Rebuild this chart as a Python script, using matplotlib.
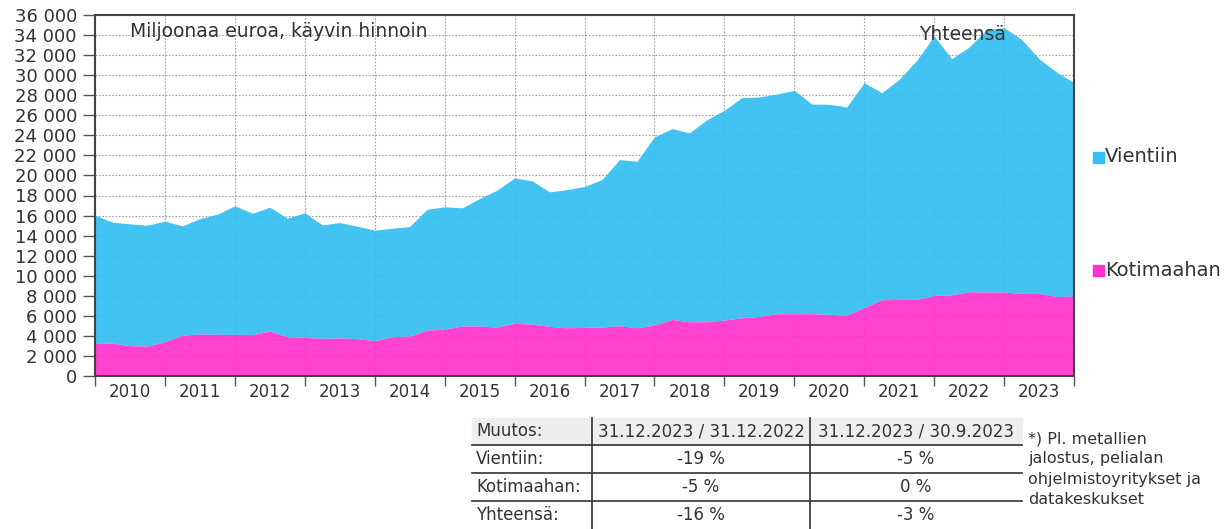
import matplotlib
matplotlib.use("Agg")
import matplotlib.pyplot as plt
from matplotlib.ticker import FuncFormatter, FixedLocator
import numpy as np

plt.rcParams['font.family'] = ['DejaVu Sans']

# ---- data (quarterly, 31.12.2009 ... 31.12.2023), million euro ----
years = ['2010', '2011', '2012', '2013', '2014', '2015', '2016',
         '2017', '2018', '2019', '2020', '2021', '2022', '2023']
yhteensa = [16040, 15340, 15170, 15040, 15440, 14970, 15700, 16140, 16970, 16230,
            16830, 15740, 16270, 15070, 15300, 14940, 14540, 14740, 14910, 16630,
            16870, 16770, 17700, 18530, 19750, 19460, 18360, 18590, 18900, 19590,
            21580, 21410, 23840, 24670, 24240, 25560, 26490, 27760, 27820, 28120,
            28490, 27120, 27090, 26830, 29250, 28250, 29580, 31470, 33900, 31640,
            32800, 34560, 34730, 33570, 31640, 30310, 29250]
kotimaahan = [3250, 3290, 3020, 2990, 3420, 4080, 4180, 4150, 4150, 4120,
              4480, 3920, 3850, 3750, 3790, 3720, 3520, 3920, 3980, 4580,
              4680, 4980, 4980, 4880, 5250, 5180, 4950, 4810, 4850, 4880,
              5010, 4810, 5080, 5640, 5410, 5410, 5580, 5810, 5940, 6210,
              6210, 6210, 6140, 6080, 6810, 7600, 7640, 7640, 8030, 8100,
              8400, 8370, 8370, 8230, 8230, 7930, 7970]
series_names = ['Vientiin', 'Kotimaahan']
total_label = 'Yhteensä'
unit_label = 'Miljoonaa euroa, käyvin hinnoin'

table_header = ['Muutos:', '31.12.2023 / 31.12.2022', '31.12.2023 / 30.9.2023']
table_rows = [['Vientiin:', '-19 %', '-5 %'],
              ['Kotimaahan:', '-5 %', '0 %'],
              ['Yhteensä:', '-16 %', '-3 %']]
footnote = '*) Pl. metallien\njalostus, pelialan\nohjelmistoyritykset ja\ndatakeskukset'

BLUE = '#33BFF2'
PINK = '#FF33CC'
TXT = '#333333'

W, H = 1230, 529
fig = plt.figure(figsize=(W / 100, H / 100), dpi=100)

def px_rect(x0, y0, x1, y1):
    return [x0 / W, 1 - y1 / H, (x1 - x0) / W, (y1 - y0) / H]

ax = fig.add_axes(px_rect(95, 15, 1074, 376))
x = np.arange(len(yhteensa))
tot = np.array(yhteensa, float)
dom = np.array(kotimaahan, float)

ax.fill_between(x, dom, tot, color=BLUE, lw=0, zorder=2, alpha=0.93)
ax.fill_between(x, 0, dom, color=PINK, lw=0, zorder=2, alpha=0.93)

ax.set_xlim(0, len(yhteensa) - 1)
ax.set_ylim(0, 36000)
ax.yaxis.set_major_locator(FixedLocator(np.arange(0, 36001, 2000)))
ax.yaxis.set_major_formatter(FuncFormatter(lambda v, p: f'{int(v):,}'.replace(',', ' ')))
ax.xaxis.set_major_locator(FixedLocator(np.arange(0, len(yhteensa), 4)))
ax.xaxis.set_minor_locator(FixedLocator(np.arange(2, len(yhteensa), 4)))
ax.set_xticklabels([], minor=False)
ax.set_xticklabels(years, minor=True)
ax.tick_params(axis='x', which='major', length=7, width=1, color='#555555', direction='out')
ax.tick_params(axis='x', which='minor', length=0, labelsize=12, labelcolor=TXT, pad=5)
ax.tick_params(axis='y', length=9, width=1, color='#555555', labelsize=13, labelcolor=TXT, pad=4)

ax.grid(True, which='major', color='#888888', linestyle=(0, (1.5, 1.5)), linewidth=0.8, alpha=0.8, zorder=1)
ax.set_axisbelow(True)
for s in ax.spines.values():
    s.set_color('#444444')
    s.set_linewidth(1.5)
    s.set_zorder(5)

ax.text(0.036, 0.955, unit_label, transform=ax.transAxes, fontsize=13.5,
        color=TXT, ha='left', va='center')
ax.text(0.842, 0.945, total_label, transform=ax.transAxes, fontsize=13.5,
        color=TXT, ha='left', va='center', zorder=6)

# legend-like labels on the right
for name, col, ypx in [(series_names[0], BLUE, 157), (series_names[1], PINK, 270)]:
    fig.patches.append(plt.Rectangle((1093 / W, 1 - (ypx + 6) / H), 11 / W, 11 / H,
                                     transform=fig.transFigure, color=col, figure=fig))
    fig.text(1105 / W, 1 - ypx / H, name, fontsize=14, color=TXT, ha='left', va='center')

# table
tx0, tx1 = 472, 1022
colx = [472, 592, 810, 1022]
rowy = [418, 445, 473, 501, 529]
fig.patches.append(plt.Rectangle((tx0 / W, 1 - rowy[1] / H), (tx1 - tx0) / W,
                                 (rowy[1] - rowy[0]) / H, transform=fig.transFigure,
                                 color='#EEEEEE', figure=fig, zorder=0))
for yy in rowy[1:4]:
    fig.add_artist(plt.Line2D([tx0 / W, tx1 / W], [1 - yy / H, 1 - yy / H],
                              transform=fig.transFigure, color='#333333', lw=1.2))
for xx in colx[1:3]:
    fig.add_artist(plt.Line2D([xx / W, xx / W], [1 - rowy[0] / H, 1 - rowy[-1] / H],
                              transform=fig.transFigure, color='#333333', lw=1.2))
rows = [table_header] + table_rows
for r, row in enumerate(rows):
    yc = 1 - (rowy[r] + rowy[r + 1]) / 2 / H
    fig.text((colx[0] + 4) / W, yc, row[0], fontsize=12, color=TXT, ha='left', va='center')
    for c in (1, 2):
        xc = (colx[c] + colx[c + 1]) / 2 / W
        fig.text(xc, yc, row[c], fontsize=12, color=TXT, ha='center', va='center')

fig.text(1028 / W, 1 - 431 / H, footnote, fontsize=11.5, color=TXT, ha='left', va='top',
         linespacing=1.45)

fig.savefig('out.png', dpi=100)
